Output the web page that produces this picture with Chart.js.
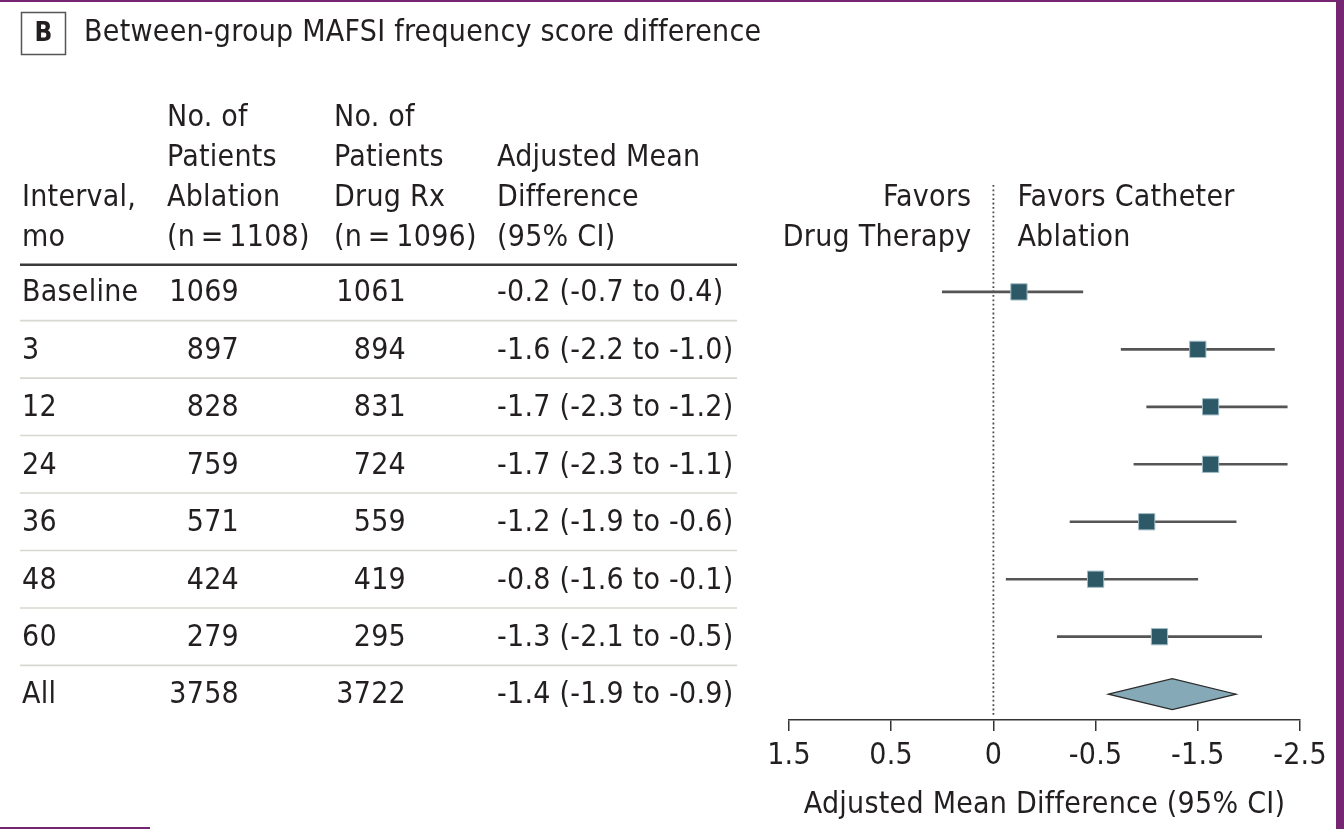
<!DOCTYPE html>
<html><head><meta charset="utf-8">
<script src="https://cdn.jsdelivr.net/npm/chart.js@4.4.1/dist/chart.umd.min.js"></script>
<style>html,body{margin:0;padding:0;background:#fff;overflow:hidden}</style>
</head><body>
<canvas id="c" width="1344" height="829"></canvas>
<script>
// ---- data ----
const intervals = ['Baseline', '3', '12', '24', '36', '48', '60', 'All'];
const nAblation = [1069, 897, 828, 759, 571, 424, 279, 3758];
const nDrug = [1061, 894, 831, 724, 559, 419, 295, 3722];
const meanDiff = [-0.2, -1.6, -1.7, -1.7, -1.2, -0.8, -1.3, -1.4];
const ciLow = [-0.7, -2.2, -2.3, -2.3, -1.9, -1.6, -2.1, -1.9];
const ciHigh = [0.4, -1.0, -1.2, -1.1, -0.6, -0.1, -0.5, -0.9];
const summaryRow = ['All'];
const tickValues = [1.6, 0.8, 0, -0.8, -1.6, -2.4];
const tickLabels = ['1.5', '0.5', '0', '-0.5', '-1.5', '-2.5'];

const titleText = 'Between-group MAFSI frequency score difference';
const panelLetter = 'B';
const headCol1 = ['Interval,', 'mo'];
const headCol2 = ['No. of', 'Patients', 'Ablation', '(n\u2009=\u20091108)'];
const headCol3 = ['No. of', 'Patients', 'Drug Rx', '(n\u2009=\u20091096)'];
const headCol4 = ['Adjusted Mean', 'Difference', '(95% CI)'];
const favorsLeft = ['Favors', 'Drug Therapy'];
const favorsRight = ['Favors Catheter', 'Ablation'];
const axisTitle = 'Adjusted Mean Difference (95% CI)';

// ---- style ----
const FAMILY = '"DejaVu Sans Condensed", "DejaVu Sans", sans-serif';
const FS = 30;
const LS = '0.25px';
const TXT = '#231f20';
Chart.defaults.font.family = FAMILY;
Chart.defaults.font.size = FS;
Chart.defaults.color = TXT;

const rowIdx = intervals.map((_, i) => i);
const studyIdx = rowIdx.filter(i => !summaryRow.includes(intervals[i]));
const sumIdx = rowIdx.filter(i => summaryRow.includes(intervals[i]));
const fmt = v => v.toFixed(1);

const tablePlugin = {
  id: 'tablePlugin',
  beforeDraw(chart) {
    const ctx = chart.ctx;
    ctx.save();
    ctx.fillStyle = '#fff';
    ctx.fillRect(0, 0, chart.width, chart.height);
    ctx.restore();
    ctx.letterSpacing = LS;
  },
  beforeDatasetsDraw(chart) {
    const {ctx, chartArea, scales: {x, y}} = chart;
    const x0 = x.getPixelForValue(0);
    ctx.save();
    ctx.strokeStyle = '#4a4a4a';
    ctx.lineWidth = 1.8;
    ctx.setLineDash([1.8, 2.6]);
    ctx.beginPath();
    ctx.moveTo(x0, chartArea.top);
    ctx.lineTo(x0, chartArea.bottom - 3);
    ctx.stroke();
    ctx.restore();
  },
  afterDatasetsDraw(chart) {
    const {ctx, scales: {x, y}} = chart;
    ctx.save();
    sumIdx.forEach(i => {
      const yc = y.getPixelForValue(i);
      const xl = x.getPixelForValue(ciHigh[i]);
      const xr = x.getPixelForValue(ciLow[i]);
      const xc = x.getPixelForValue(meanDiff[i]);
      const h = 15.5;
      ctx.beginPath();
      ctx.moveTo(xl, yc);
      ctx.lineTo(xc, yc - h);
      ctx.lineTo(xr, yc);
      ctx.lineTo(xc, yc + h);
      ctx.closePath();
      ctx.fillStyle = '#86a9b8';
      ctx.fill();
      ctx.strokeStyle = '#2b2b2b';
      ctx.lineWidth = 1.2;
      ctx.stroke();
    });
    ctx.restore();
  },
  afterDraw(chart) {
    const {ctx, scales: {x, y}} = chart;
    ctx.save();
    ctx.letterSpacing = LS;
    // frame decorations
    ctx.fillStyle = '#762572';
    ctx.fillRect(1336, 0, 8, chart.height);
    ctx.fillRect(0, 0, 1344, 2);
    ctx.fillRect(0, 827, 150, 2);

    // panel letter box + title
    ctx.strokeStyle = '#555';
    ctx.lineWidth = 1.5;
    ctx.strokeRect(21.5, 12.5, 44, 42);
    ctx.fillStyle = TXT;
    ctx.textBaseline = 'middle';
    ctx.font = `bold ${FS - 4}px ${FAMILY}`;
    ctx.textAlign = 'center';
    ctx.fillText(panelLetter, 43.5, 34);
    ctx.font = `${FS}px ${FAMILY}`;
    ctx.textAlign = 'left';
    ctx.fillText(titleText, 84, 33);

    // header
    const lineY = [118, 158, 198, 238];
    const drawCol = (lines, xx, align) => {
      ctx.textAlign = align;
      const off = lineY.length - lines.length;
      lines.forEach((t, k) => ctx.fillText(t, xx, lineY[off + k]));
    };
    ctx.font = `${FS}px ${FAMILY}`;
    drawCol(headCol1, 22, 'left');
    drawCol(headCol2, 167, 'left');
    drawCol(headCol3, 334, 'left');
    drawCol(headCol4, 497, 'left');
    const x0 = x.getPixelForValue(0);
    drawCol(favorsLeft, x0 - 22, 'right');
    drawCol(favorsRight, x0 + 24, 'left');

    // table rules
    const tl = 20, tr = 737;
    ctx.strokeStyle = '#3a3a3a';
    ctx.lineWidth = 2.5;
    ctx.beginPath();
    const hy = y.getPixelForValue(-0.5) + 1.5;
    ctx.moveTo(tl, hy); ctx.lineTo(tr, hy); ctx.stroke();
    ctx.strokeStyle = '#d8d8d2';
    ctx.lineWidth = 1.6;
    for (let i = 0; i < intervals.length - 1; i++) {
      const ly = y.getPixelForValue(i + 0.5);
      ctx.beginPath(); ctx.moveTo(tl, ly); ctx.lineTo(tr, ly); ctx.stroke();
    }

    // table rows
    ctx.fillStyle = TXT;
    rowIdx.forEach(i => {
      const ry = y.getPixelForValue(i) + 1.5;
      ctx.textAlign = 'left';
      ctx.fillText(intervals[i], 22, ry);
      ctx.textAlign = 'right';
      ctx.fillText(String(nAblation[i]), 239, ry);
      ctx.fillText(String(nDrug[i]), 406, ry);
      ctx.textAlign = 'left';
      ctx.fillText(`${fmt(meanDiff[i])} (${fmt(ciLow[i])} to ${fmt(ciHigh[i])})`, 497, ry);
    });
    ctx.restore();
  }
};

new Chart(document.getElementById('c'), {
  type: 'scatter',
  data: {
    datasets: [
      {
        type: 'scatter',
        data: studyIdx.map(i => ({x: meanDiff[i], y: i})),
        pointStyle: 'rect',
        pointRadius: 11.5,
        backgroundColor: '#2d5866',
        borderColor: '#9fbcc5',
        borderWidth: 1,
        order: 1
      },
      {
        type: 'bar',
        indexAxis: 'y',
        data: studyIdx.map(i => ({x: [ciLow[i], ciHigh[i]], y: i})),
        backgroundColor: '#555555',
        borderWidth: 0,
        barThickness: 2,
        grouped: false,
        order: 2
      }
    ]
  },
  options: {
    responsive: false,
    animation: false,
    events: [],
    layout: {padding: {left: 789, right: 44, top: 185, bottom: 0}},
    plugins: {legend: {display: false}, tooltip: {enabled: false}, title: {display: false}},
    scales: {
      x: {
        type: 'linear',
        reverse: true,
        min: Math.min(...tickValues),
        max: Math.max(...tickValues),
        offset: false,
        afterBuildTicks: s => { s.ticks = tickValues.map(v => ({value: v})); },
        afterFit: s => { s.height = 109; },
        grid: {display: true, drawOnChartArea: false, drawTicks: true, tickLength: 11, color: '#333', lineWidth: 1.5, offset: false},
        border: {display: true, color: '#333', width: 1.5},
        ticks: {
          padding: 7,
          color: TXT,
          font: {size: FS},
          maxRotation: 0,
          autoSkip: false,
          callback: v => tickLabels[tickValues.indexOf(v)]
        },
        title: {display: true, text: axisTitle, color: TXT, font: {size: FS}, padding: {top: 0, bottom: 6}}
      },
      y: {
        type: 'linear',
        display: false,
        reverse: true,
        min: -1.86,
        max: 7.45,
        offset: false,
        grid: {offset: false}
      }
    }
  },
  plugins: [tablePlugin]
});
</script>
</body></html>
